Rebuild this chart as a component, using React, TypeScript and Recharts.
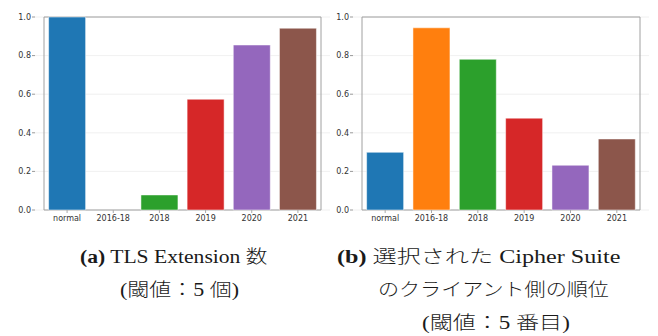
import { Bar, BarChart, CartesianGrid, Cell, ReferenceArea, XAxis, YAxis } from "recharts";

const categories = ["normal", "2016-18", "2018", "2019", "2020", "2021"];
const extensionRatio = [1.0, 0, 0.078, 0.574, 0.855, 0.942];
const cipherRankRatio = [0.299, 0.944, 0.781, 0.476, 0.232, 0.368];
const yTicks = [0, 0.2, 0.4, 0.6, 0.8, 1.0];

const colors = ["#1f77b4", "#ff7f0e", "#2ca02c", "#d62728", "#9467bd", "#8c564b"];

const tickStyle = { fontFamily: "DejaVu Sans", fontSize: 8, fill: "#333" };
const captionFont = "'Liberation Serif', 'Noto Sans CJK JP', serif";

const toRows = (values: number[]) =>
  categories.map((name, i) => ({ name, value: values[i] }));

const Panel = ({ values, width }: { values: number[]; width: number }) => {
  const rows = toRows(values);
  return (
    <BarChart
      width={width}
      height={230}
      data={rows}
      margin={{ top: 17, right: 1, left: 0, bottom: 0 }}
      barCategoryGap="10%"
    >
      <CartesianGrid horizontal vertical={false} stroke="#ececec" strokeWidth={0.8} />
      <XAxis
        dataKey="name"
        height={20}
        padding={{ left: 9, right: 9 }}
        tick={tickStyle}
        tickLine={{ stroke: "#aaa" }}
        tickSize={3}
        axisLine={false}
        interval={0}
      />
      <YAxis
        width={35}
        domain={[0, 1]}
        ticks={yTicks}
        tickFormatter={(v: number) => v.toFixed(1)}
        tick={tickStyle}
        tickLine={{ stroke: "#999" }}
        tickSize={3}
        tickMargin={1}
        axisLine={false}
      />
      <Bar dataKey="value" isAnimationActive={false} stroke="#ffffff" strokeOpacity={0.5} strokeWidth={1}>
        {rows.map((_, index) => (
          <Cell key={`cell-${index}`} fill={colors[index]} />
        ))}
      </Bar>
      <ReferenceArea y1={0} y2={1} fill="none" stroke="#a0a0a0" strokeWidth={1} ifOverflow="visible" />
    </BarChart>
  );
};

// CJK runs in a lighter weight so they sit closer to the thin serif text
const Jp = ({ children }: { children: React.ReactNode }) => (
  <span style={{ fontFamily: "'Noto Sans CJK JP'", fontWeight: 300 }}>{children}</span>
);

type CaptionLine = { text: React.ReactNode; left: number; top: number; stretch: number };

const Caption = ({ lines }: { lines: CaptionLine[] }) => (
  <>
    {lines.map((line, i) => (
      <div
        key={i}
        style={{
          position: "absolute",
          left: line.left,
          top: line.top,
          fontFamily: captionFont,
          fontSize: 18,
          fontWeight: 400,
          lineHeight: "20px",
          color: "#1a1a1a",
          whiteSpace: "nowrap",
          transform: `scaleX(${line.stretch})`,
          transformOrigin: "left center",
        }}
      >
        {line.text}
      </div>
    ))}
  </>
);

const App = () => {
  return (
    <div style={{ position: "absolute", left: 0, top: 0, width: 658, height: 336, background: "#fff", overflow: "hidden" }}>
      <div style={{ position: "absolute", left: 0, top: 0 }}>
        <Panel values={extensionRatio} width={331} />
      </div>
      <div style={{ position: "absolute", left: 318, top: 0 }}>
        <Panel values={cipherRankRatio} width={332} />
      </div>
      <Caption
        lines={[
          { text: <><b style={{ fontWeight: 700 }}>(a)</b> TLS Extension <Jp>数</Jp></>, left: 80, top: 245, stretch: 1.2 },
          { text: <>(<Jp>閾値：</Jp>5 <Jp>個</Jp>)</>, left: 120, top: 278, stretch: 1.22 },
          { text: <><b style={{ fontWeight: 700 }}>(b)</b> <Jp>選択された</Jp> Cipher Suite</>, left: 337, top: 245, stretch: 1.34 },
          { text: <Jp>のクライアント側の順位</Jp>, left: 378, top: 278, stretch: 1.17 },
          { text: <>(<Jp>閾値：</Jp>5 <Jp>番目</Jp>)</>, left: 422, top: 311, stretch: 1.28 },
        ]}
      />
    </div>
  );
};

export default App;
